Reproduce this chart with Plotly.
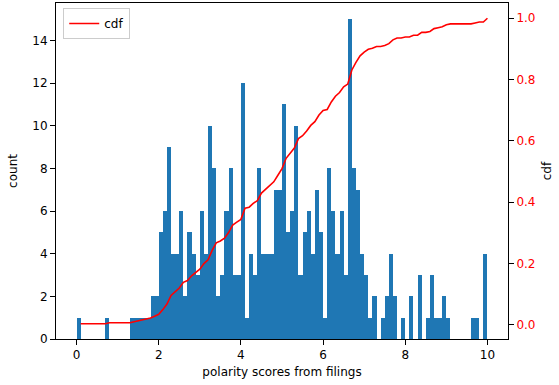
import numpy as np
import plotly.graph_objects as go

# histogram: 100 bins over [0, 10]
bin_start = 0.0
bin_width = 0.1
counts = [
    1, 0, 0, 0, 0, 0, 0, 1, 0, 0,
    0, 0, 0, 1, 1, 1, 1, 1, 2, 2,
    5, 6, 9, 4, 4, 6, 2, 5, 4, 3,
    6, 4, 10, 8, 2, 3, 6, 8, 3, 3,
    12, 1, 4, 3, 8, 4, 4, 4, 7, 7,
    11, 5, 6, 10, 3, 5, 6, 4, 7, 5,
    1, 8, 6, 4, 6, 3, 15, 8, 7, 4,
    3, 1, 2, 0, 1, 2, 4, 2, 0, 1,
    0, 2, 0, 3, 0, 1, 3, 1, 1, 2,
    1, 0, 0, 0, 0, 0, 1, 1, 0, 4,
]
x_ticks = [0, 2, 4, 6, 8, 10]
y_ticks = [0, 2, 4, 6, 8, 10, 12, 14]
y2_ticks = [0.0, 0.2, 0.4, 0.6, 0.8, 1.0]

counts_arr = np.array(counts)
edges = bin_start + bin_width * np.arange(len(counts) + 1)
centers = (edges[:-1] + edges[1:]) / 2
cdf = np.cumsum(counts_arr) / counts_arr.sum()

font = dict(family="DejaVu Sans", size=12, color="black")

fig = go.Figure()
fig.add_trace(go.Bar(x=centers, y=counts_arr, width=bin_width,
                     marker=dict(color="#1f77b4", line=dict(width=0)),
                     showlegend=False, name="count"))
fig.add_trace(go.Scatter(x=edges[1:], y=cdf, mode="lines", name="cdf",
                         line=dict(color="red", width=1.6), yaxis="y2"))

fig.update_layout(
    width=559, height=385,
    margin=dict(l=56, r=51, t=3, b=46),
    plot_bgcolor="white", paper_bgcolor="white",
    font=font,
    bargap=0,
    xaxis=dict(range=[-0.5, 10.5], tickvals=x_ticks, ticks="outside", ticklen=5,
               tickwidth=1, tickcolor="black", showgrid=False, zeroline=False,
               showline=True, linecolor="black", linewidth=1, mirror=True,
               title=dict(text="polarity scores from filings", font=font, standoff=6)),
    yaxis=dict(range=[0, 15.75], tickvals=y_ticks, ticks="outside", ticklen=5,
               tickwidth=1, tickcolor="black", showgrid=False, zeroline=False,
               showline=True, linecolor="black", linewidth=1,
               title=dict(text="count", font=font, standoff=12)),
    yaxis2=dict(range=[-0.0468, 1.0498], tickvals=y2_ticks, tickformat=".1f",
                overlaying="y", side="right", ticks="outside", ticklen=5,
                tickwidth=1, tickcolor="black", tickfont=dict(color="red", size=12, family="DejaVu Sans"),
                showgrid=False, zeroline=False, showline=True, linecolor="black", linewidth=1,
                title=dict(text="cdf", font=font, standoff=8)),
    legend=dict(x=0.016, y=0.985, xanchor="left", yanchor="top",
                bgcolor="rgba(255,255,255,0.8)", bordercolor="#cccccc", borderwidth=1,
                font=font, itemwidth=30, tracegroupgap=0),
)

fig.write_html("out.html", config={"displayModeBar": False},
               post_script="document.body.style.margin='0';document.body.style.padding='0';")
